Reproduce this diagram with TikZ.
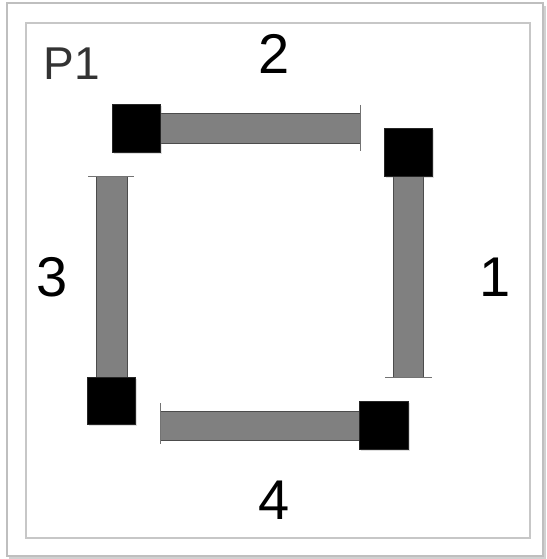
\documentclass[tikz,border=0pt]{standalone}
\usepackage{fontspec}
\setmainfont{Liberation Sans}
\usetikzlibrary{shadows}
\begin{document}
\begin{tikzpicture}[x=1pt,y=-1pt,
  frame/.style={draw=black!25,line width=1.6pt},
  bar/.style={draw=black!70,fill=black!50,line width=0.6pt},
  blk/.style={fill=black,draw=black!85,line width=0.5pt,drop shadow={shadow xshift=1.5pt,shadow yshift=-2pt,opacity=0.25}},
  tick/.style={draw=black!55,line width=0.7pt},
  num/.style={inner sep=0pt,font=\fontsize{56}{60}\selectfont},
]
\useasboundingbox (0,0) rectangle (546,559);
\fill[white] (0,0) rectangle (546,559);
% frames with soft shadow
\fill[black!18] (9,6) rectangle (546,559);
\fill[white] (7,3) rectangle (543,556);
\draw[frame] (7,3) rectangle (543,556);
\fill[black!10] (27,24) rectangle (531,539);
\fill[white] (26,23) rectangle (529.5,537.5);
\draw[frame,draw=black!22,line width=1.3pt] (26,23) rectangle (530,538);
% bars
\path[bar] (160,113) rectangle (360,143) node[coordinate] (b2) {};
\path[bar] (393,176) rectangle (423,377) node[coordinate] (b1) {};
\path[bar] (160,411) rectangle (359,440) node[coordinate] (b4) {};
\path[bar] (96,176) rectangle (127,377) node[coordinate] (b3) {};
% end ticks
\coordinate (t2a) at (360,105); \coordinate (t2b) at (360,151);
\coordinate (t1a) at (385,377); \coordinate (t1b) at (432,377);
\coordinate (t4a) at (160,403); \coordinate (t4b) at (160,444);
\coordinate (t3a) at (88,176);  \coordinate (t3b) at (134,176);
\draw[tick] (t2a) -- (t2b);
\draw[tick] (t1a) -- (t1b);
\draw[tick] (t4a) -- (t4b);
\draw[tick] (t3a) -- (t3b);
% black squares
\path[blk] (112,104) rectangle (160,152) node[coordinate] (s2) {};
\path[blk] (384,128) rectangle (432,176) node[coordinate] (s1) {};
\path[blk] (359,401) rectangle (408,449) node[coordinate] (s4) {};
\path[blk] (87,377) rectangle (135,424) node[coordinate] (s3) {};
% labels
\node[inner sep=0pt,text=black!80,font=\fontsize{46}{50}\selectfont] (p1) at (72,64) {P1};
\node[num] (n2) at (274.5,54) {2};
\node[num] (n1) at (495,277) {1};
\node[num] (n3) at (52.5,277) {3};
\node[num] (n4) at (274,500.5) {4};
\end{tikzpicture}
\end{document}
